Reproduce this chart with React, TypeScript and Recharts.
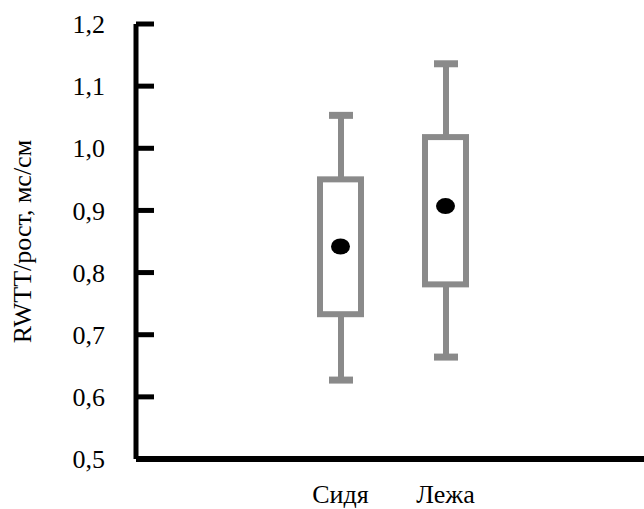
import React from 'react';
import { ComposedChart, Bar, Line, XAxis, YAxis } from 'recharts';

const categories = ['Сидя', 'Лежа'];
const whiskerLow = [0.627, 0.664];
const quartile1 = [0.733, 0.781];
const quartile3 = [0.95, 1.018];
const whiskerHigh = [1.053, 1.136];
const means = [0.842, 0.907];
const yTicks = [0.5, 0.6, 0.7, 0.8, 0.9, 1.0, 1.1, 1.2];

const data = categories.map((name, i) => ({
  name,
  whisker: [whiskerLow[i], whiskerHigh[i]],
  box: [quartile1[i], quartile3[i]],
  mean: means[i],
}));

const GREY = '#8a8a8a';
const FONT = 'Times New Roman, serif';
const Y_TICK_MARGIN = 31;
const Y_TICK_LEN = 18;

const WhiskerShape = (props: any) => {
  const { x, y, width, height } = props;
  const cx = x + width / 2;
  return (
    <g>
      <line x1={cx} x2={cx} y1={y} y2={y + height} stroke={GREY} strokeWidth={6} />
      <line x1={x} x2={x + width} y1={y} y2={y} stroke={GREY} strokeWidth={7} />
      <line x1={x} x2={x + width} y1={y + height} y2={y + height} stroke={GREY} strokeWidth={7} />
    </g>
  );
};

const BoxShape = (props: any) => {
  const { x, y, width, height } = props;
  return <rect x={x} y={y} width={width} height={height} fill="#ffffff" stroke={GREY} strokeWidth={6} />;
};

const MeanDot = (props: any) => {
  const { cx, cy } = props;
  if (cx == null || cy == null) return null;
  return <ellipse cx={cx} cy={cy} rx={9.5} ry={8} fill="#000000" />;
};

const YTick = (props: any) => {
  const { x, y, payload } = props;
  const ax = x + Y_TICK_MARGIN;
  return (
    <g>
      <line x1={ax} x2={ax + Y_TICK_LEN} y1={y} y2={y} stroke="#000" strokeWidth={5} />
      <text x={x} y={y} dy="0.35em" textAnchor="end" fontFamily={FONT} fontSize={26} fill="#000">
        {Number(payload.value).toFixed(1).replace('.', ',')}
      </text>
    </g>
  );
};

const XTick = (props: any) => {
  const { x, y, payload } = props;
  return (
    <text x={x} y={y} textAnchor="middle" fontFamily={FONT} fontSize={26} fill="#000">
      {payload.value}
    </text>
  );
};

const YLabel = (props: any) => {
  const vb = props.viewBox || {};
  const cy = vb.y + vb.height / 2;
  const lx = 31;
  return (
    <text
      x={lx}
      y={cy}
      transform={`rotate(-90, ${lx}, ${cy})`}
      textAnchor="middle"
      fontFamily={FONT}
      fontSize={26}
      fill="#000"
    >
      RWTT/рост, мс/см
    </text>
  );
};

export default function App() {
  const pad = { left: 152, right: 146 };
  return (
    <div style={{ position: 'fixed', left: 0, top: 0, width: 644, height: 509, background: '#fff', fontFamily: FONT }}>
      <ComposedChart width={644} height={509} data={data} margin={{ top: 24, right: 0, bottom: 0, left: 0 }}>
        <XAxis
          xAxisId="main"
          dataKey="name"
          type="category"
          padding={pad}
          height={50}
          axisLine={{ stroke: '#000', strokeWidth: 6 }}
          tickLine={false}
          tickSize={0}
          tickMargin={44}
          tick={<XTick />}
        />
        <XAxis xAxisId="overlay" dataKey="name" type="category" padding={pad} hide />
        <YAxis
          type="number"
          domain={[0.5, 1.2]}
          ticks={yTicks}
          width={136}
          allowDataOverflow
          axisLine={{ stroke: '#000', strokeWidth: 5 }}
          tickLine={false}
          tickSize={0}
          tickMargin={Y_TICK_MARGIN}
          tick={<YTick />}
          label={<YLabel />}
        />
        <Bar xAxisId="main" dataKey="whisker" barSize={24} shape={<WhiskerShape />} isAnimationActive={false} />
        <Bar xAxisId="overlay" dataKey="box" barSize={41} shape={<BoxShape />} isAnimationActive={false} />
        <Line
          xAxisId="overlay"
          dataKey="mean"
          stroke="none"
          dot={<MeanDot />}
          activeDot={false}
          isAnimationActive={false}
        />
      </ComposedChart>
    </div>
  );
}
